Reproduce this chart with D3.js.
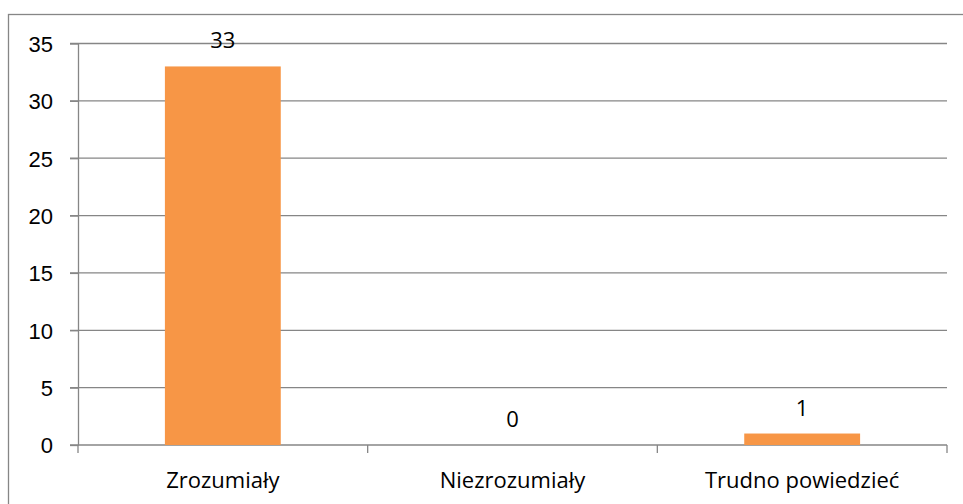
<!DOCTYPE html>
<html>
<head>
<meta charset="utf-8">
<script src="https://cdn.jsdelivr.net/npm/d3@7"></script>
<style>
  body { margin: 0; background: #fff; }
  svg { display: block; font-family: 'Open Sans', sans-serif; }
  .grid line { stroke: #868686; stroke-width: 1.3; }
  .axis path, .axis line { stroke: #868686; stroke-width: 1.3; }
  .axis text { fill: #000; font-size: 22px; }
  .bar-label { fill: #000; font-size: 22px; }
</style>
</head>
<body>
<div class="chart-container"></div>
<script>
var categories = ['Zrozumiały', 'Niezrozumiały', 'Trudno powiedzieć'];
var values = [33, 0, 1];
var yTicks = [0, 5, 10, 15, 20, 25, 30, 35];

var width = 963;
var height = 504;
var margin = { top: 43.5, right: 16, bottom: 59, left: 78 };

var svg = d3.select('.chart-container').append('svg')
  .attr('width', width)
  .attr('height', height);

// outer frame of the chart area (runs off the right and bottom edge)
svg.append('rect')
  .attr('x', 8.5)
  .attr('y', 14.5)
  .attr('width', width)
  .attr('height', height)
  .attr('fill', 'none')
  .attr('stroke', '#868686')
  .attr('stroke-width', 1.3);

// category scale, one band per category
var x = d3.scaleBand()
  .domain(categories)
  .range([margin.left, width - margin.right])
  .padding(0);

var y = d3.scaleLinear()
  .domain([0, 35])
  .range([height - margin.bottom, margin.top]);

var barWidth = x.bandwidth() / 2.5;

// horizontal gridlines, with the little tick stubs left of the axis
svg.append('g')
  .attr('class', 'grid')
  .selectAll('line')
  .data(yTicks.filter(function (d) { return d > 0; }))
  .enter()
  .append('line')
    .attr('x1', margin.left - 8)
    .attr('x2', width - margin.right)
    .attr('y1', function (d) { return y(d); })
    .attr('y2', function (d) { return y(d); });

// y axis
var yAxis = svg.append('g')
  .attr('class', 'axis')
  .attr('transform', 'translate(' + margin.left + ',0)')
  .call(d3.axisLeft(y).tickValues(yTicks).tickSize(8).tickPadding(17).tickSizeOuter(0));

yAxis.selectAll('text').attr('dy', '0.36em');

// x axis: ticks sit on the band edges
var xEdges = categories.map(function (d) { return x(d); }).concat([x.range()[1]]);

var xAxis = svg.append('g')
  .attr('class', 'axis')
  .attr('transform', 'translate(0,' + y(0) + ')');

xAxis.append('line')
  .attr('x1', margin.left - 8)
  .attr('x2', x.range()[1])
  .attr('y1', 0)
  .attr('y2', 0);

xAxis.selectAll('.tick-edge')
  .data(xEdges)
  .enter()
  .append('line')
    .attr('class', 'tick-edge')
    .attr('x1', function (d) { return d; })
    .attr('x2', function (d) { return d; })
    .attr('y1', 0)
    .attr('y2', 8);

xAxis.selectAll('.cat-label')
  .data(categories)
  .enter()
  .append('text')
    .attr('class', 'cat-label')
    .attr('text-anchor', 'middle')
    .attr('x', function (d) { return x(d) + x.bandwidth() / 2; })
    .attr('y', 43)
    .text(function (d) { return d; });

// bars
svg.selectAll('.bar')
  .data(values)
  .enter()
  .append('rect')
    .attr('class', 'bar')
    .attr('fill', '#F79646')
    .attr('x', function (d, i) { return x(categories[i]) + (x.bandwidth() - barWidth) / 2; })
    .attr('width', barWidth)
    .attr('y', function (d) { return y(d); })
    .attr('height', function (d) { return y(0) - y(d); });

// value labels above the bars
svg.selectAll('.bar-label')
  .data(values)
  .enter()
  .append('text')
    .attr('class', 'bar-label')
    .attr('text-anchor', 'middle')
    .attr('x', function (d, i) { return x(categories[i]) + x.bandwidth() / 2; })
    .attr('y', function (d) { return y(d) - 18; })
    .text(function (d) { return d; });
</script>
</body>
</html>
